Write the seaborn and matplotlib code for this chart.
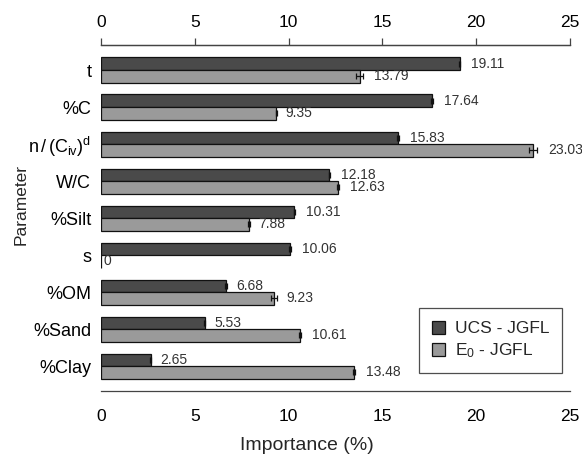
import numpy as np
import pandas as pd
import matplotlib
matplotlib.use("Agg")
import matplotlib.pyplot as plt
import seaborn as sns

parameters = ["t", "%C", r"$\mathregular{n\,/\,(C_{iv})^{d}}$", "W/C", "%Silt", "s",
              "%OM", "%Sand", "%Clay"]
ucs_values = [19.11, 17.64, 15.83, 12.18, 10.31, 10.06, 6.68, 5.53, 2.65]
e0_values = [13.79, 9.35, 23.03, 12.63, 7.88, 0.0, 9.23, 10.61, 13.48]
ucs_err = [0.03, 0.05, 0.03, 0.03, 0.03, 0.05, 0.05, 0.03, 0.03]
e0_err = [0.20, 0.03, 0.20, 0.06, 0.04, 0.0, 0.15, 0.05, 0.05]
series_names = ["UCS - JGFL", r"$\mathregular{E_0}$ - JGFL"]
x_ticks = [0, 5, 10, 15, 20, 25]

sns.set_style("white")
plt.rcParams["font.family"] = ["Liberation Sans", "DejaVu Sans"]
plt.rcParams["mathtext.fontset"] = "custom"
plt.rcParams["mathtext.rm"] = "Liberation Sans"
plt.rcParams["mathtext.it"] = "Liberation Sans"

df = pd.DataFrame({
    "Parameter": parameters * 2,
    "Importance": ucs_values + e0_values,
    "Series": [series_names[0]] * len(parameters) + [series_names[1]] * len(parameters),
})
errors = {series_names[0]: ucs_err, series_names[1]: e0_err}
values = {series_names[0]: ucs_values, series_names[1]: e0_values}

fig = plt.figure(figsize=(5.82, 4.61), dpi=100)
ax = fig.add_axes([0.1735, 0.1518, 0.8059, 0.7506])

palette = {series_names[0]: "#4a4a4a", series_names[1]: "#9a9a9a"}
sns.barplot(data=df, y="Parameter", x="Importance", hue="Series", orient="h",
            palette=palette, width=0.676, saturation=1, edgecolor="#111111",
            linewidth=0.9, errorbar=None, ax=ax)

ax.set_xlim(0, 25)
ax.set_ylim(8.676, -0.676)

fig.canvas.draw()
renderer = fig.canvas.get_renderer()
for container, name in zip(ax.containers, series_names):
    for bar, val, err in zip(container.patches, values[name], errors[name]):
        yc = bar.get_y() + bar.get_height() / 2
        if err > 0:
            ax.errorbar(val, yc, xerr=err, fmt="none", ecolor="#111111",
                        elinewidth=0.9, capsize=2.5, capthick=0.9, zorder=4)
        label = f"{val:g}" if val == 0 else f"{val:.2f}"
        t = ax.annotate(label, xy=(val + err, yc), xytext=(0, 0),
                        textcoords="offset points", va="center", ha="left",
                        fontsize=10, color="#333333")
        w = t.get_window_extent(renderer).width
        t.set_position((0.28 * w * 72 / fig.dpi + (1.0 if val > 0 else 0.5), 0))

ax.set_xticks(x_ticks)
ax.tick_params(axis="x", which="both", direction="out", length=5, width=0.9,
               color="#444444", labelsize=12.5, pad=8, labelcolor="black")
ax.tick_params(axis="y", length=0, labelsize=13, pad=7, labelcolor="black")
for s in ["left", "right"]:
    ax.spines[s].set_visible(False)
for s in ["top", "bottom"]:
    ax.spines[s].set_visible(True)
    ax.spines[s].set_color("#444444")
    ax.spines[s].set_linewidth(0.9)

top = ax.secondary_xaxis("top")
top.set_xticks(x_ticks)
top.tick_params(axis="x", direction="out", length=5, width=0.9, color="#444444",
                labelsize=12.5, pad=6, labelcolor="black")
top.spines["top"].set_color("#444444")
top.spines["top"].set_linewidth(0.9)

ax.set_xlabel("Importance (%)", fontsize=14)
ax.xaxis.set_label_coords(0.439, -0.133)
ax.set_ylabel("Parameter", fontsize=12.5)
ax.yaxis.set_label_coords(-0.155, 0.538)

leg = ax.legend(loc="upper right", bbox_to_anchor=(0.983, 0.24), fontsize=12.5,
                frameon=True, fancybox=False, handlelength=0.75, handleheight=0.75,
                handletextpad=0.55, borderpad=0.75, labelspacing=0.3,
                borderaxespad=0)
leg.get_frame().set_edgecolor("#222222")
leg.get_frame().set_linewidth(0.9)
for h in leg.legend_handles:
    h.set_edgecolor("#111111")

fig.savefig("out.png", dpi=100)
